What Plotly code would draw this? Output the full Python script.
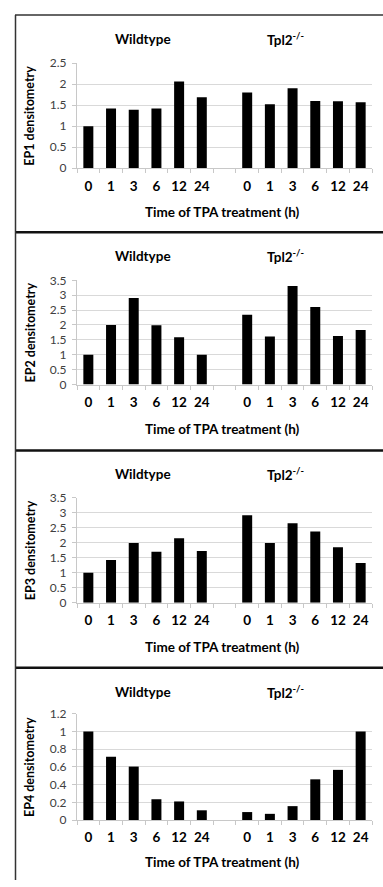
import plotly.graph_objects as go

W, H = 383, 887

time_labels = ["0", "1", "3", "6", "12", "24"]
group_labels = ["Wildtype", "Tpl2<sup>-/-</sup>"]
panel_names = ["EP1 densitometry", "EP2 densitometry", "EP3 densitometry", "EP4 densitometry"]

ep1_wt = [1.0, 1.42, 1.39, 1.42, 2.06, 1.69]
ep1_ko = [1.80, 1.52, 1.90, 1.60, 1.59, 1.57]
ep2_wt = [1.0, 2.0, 2.91, 1.99, 1.59, 1.0]
ep2_ko = [2.34, 1.61, 3.31, 2.60, 1.63, 1.83]
ep3_wt = [1.0, 1.42, 1.99, 1.70, 2.15, 1.72]
ep3_ko = [2.91, 1.99, 2.65, 2.37, 1.85, 1.32]
ep4_wt = [1.0, 0.716, 0.604, 0.235, 0.21, 0.11]
ep4_ko = [0.09, 0.07, 0.157, 0.46, 0.567, 1.0]

y_max = [2.5, 3.5, 3.5, 1.2]
y_step = [0.5, 0.5, 0.5, 0.2]

panels = [(ep1_wt, ep1_ko), (ep2_wt, ep2_ko), (ep3_wt, ep3_ko), (ep4_wt, ep4_ko)]

# layout geometry (pixels)
border_top = [7, 228, 450, 671]
plot_top = [56, 277, 498, 718]
plot_bot = [163, 383, 605, 826]
title_y = [32, 252, 474, 696]
xtitle_y = [208, 428, 650, 869]
x_left, x_right = 77, 372

FONT = "Lato, Carlito, Calibri, sans-serif"

def py(p):
    return 1 - p / H

def px(p):
    return p / W

fig = go.Figure()
annotations = []
shapes = []

n = len(time_labels)
wt_pos = list(range(n))
ko_pos = [n + 1 + i for i in range(n)]
all_pos = wt_pos + ko_pos
all_text = time_labels + time_labels

for k, (wt, ko) in enumerate(panels):
    xa = "x" if k == 0 else f"x{k+1}"
    ya = "y" if k == 0 else f"y{k+1}"
    fig.add_trace(go.Bar(x=wt_pos + ko_pos, y=list(wt) + list(ko), xaxis=xa, yaxis=ya,
                         marker=dict(color="black", line=dict(width=0)),
                         width=0.44, showlegend=False, hoverinfo="y"))
    xkey = "xaxis" if k == 0 else f"xaxis{k+1}"
    ykey = "yaxis" if k == 0 else f"yaxis{k+1}"
    fig.layout[xkey] = dict(
        domain=[px(x_left), px(x_right)], anchor=ya, range=[-0.5, 2 * n + 0.5],
        tickvals=all_pos, ticktext=all_text, ticks="", ticklabelstandoff=5,
        tickfont=dict(family=FONT, size=13.5, color="black", weight="bold"),
        showgrid=False, zeroline=False, showline=True, linecolor="#c8c8c8", linewidth=1.2,
        minor=dict(ticks="outside", tick0=-0.5, dtick=1, ticklen=4, tickcolor="#c8c8c8", tickwidth=1, showgrid=False),
        fixedrange=True)
    fig.layout[ykey] = dict(
        domain=[py(plot_bot[k]), py(plot_top[k])], anchor=xa, range=[0, y_max[k]],
        dtick=y_step[k], tick0=0, ticks="outside", ticklen=4, tickcolor="#c8c8c8",
        tickfont=dict(family=FONT, size=12, color="#404040"),
        showgrid=True, gridcolor="#d9d9d9", gridwidth=1.3, zeroline=False,
        showline=True, linecolor="#c8c8c8", linewidth=1.2, ticklabelstandoff=3,
        fixedrange=True)
    for gi, gl in enumerate(group_labels):
        cx = [143, 285][gi]
        annotations.append(dict(text=gl, x=px(cx), y=py(title_y[k]), xref="paper", yref="paper",
                                showarrow=False, xanchor="center", yanchor="middle",
                                font=dict(family=FONT, size=13.5, color="black", weight="bold")))
    annotations.append(dict(text="Time of TPA treatment (h)", x=px(222), y=py(xtitle_y[k]),
                            xref="paper", yref="paper", showarrow=False, xanchor="center", yanchor="middle",
                            font=dict(family=FONT, size=13.5, color="black", weight="bold")))
    annotations.append(dict(text=panel_names[k], x=px(30), y=py((plot_top[k] + plot_bot[k]) / 2),
                            xref="paper", yref="paper", showarrow=False, textangle=-90,
                            xanchor="center", yanchor="middle",
                            font=dict(family=FONT, size=12.5, color="black", weight="bold")))
    shapes.append(dict(type="line", xref="paper", yref="paper", x0=px(15), x1=1,
                       y0=py(border_top[k]), y1=py(border_top[k]),
                       line=dict(color="#111111" if k else "#333333", width=2.5 if k else 1.5)))

shapes.append(dict(type="line", xref="paper", yref="paper", x0=px(15.5), x1=px(15.5),
                   y0=py(border_top[0]), y1=0, line=dict(color="#333333", width=1.5)))

fig.update_layout(width=W, height=H, margin=dict(l=0, r=0, t=0, b=0),
                  paper_bgcolor="white", plot_bgcolor="white",
                  annotations=annotations, shapes=shapes, bargap=0.56)

fig.write_html("out.html", config={"displayModeBar": False},
               post_script="document.body.style.margin='0';document.body.style.overflow='hidden';")
